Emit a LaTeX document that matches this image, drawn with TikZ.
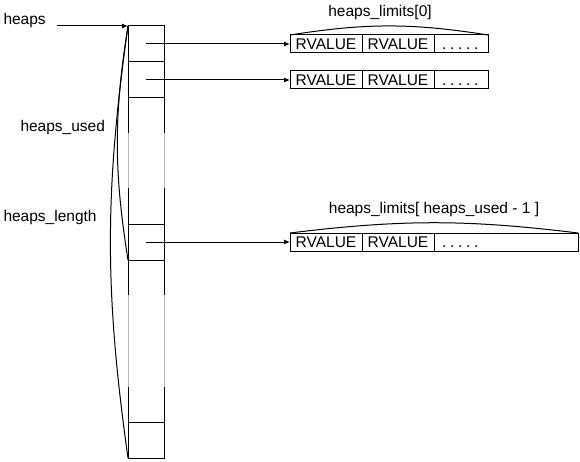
\documentclass[tikz,border=0pt]{standalone}
\usepackage{fontspec}
\setmainfont{Liberation Sans}
\usetikzlibrary{arrows.meta,positioning}

\newcommand{\fivedots}{\hspace*{8pt}.\kern3.7pt.\kern3.7pt.\kern3.7pt.\kern3.7pt.}

\begin{document}
\begin{tikzpicture}[
    x=1pt, y=-1pt,
    font=\fontsize{15.5}{18}\selectfont,
    >={Latex[length=6pt,width=5pt]},
    line width=1pt,
    slot/.style={draw, minimum width=36pt, minimum height=36pt, inner sep=0pt, outer sep=0pt},
    rvcell/.style={draw, minimum width=72pt, minimum height=18pt, inner sep=0pt, outer sep=0pt, text height=11pt, text depth=0pt},
    dotcell/.style={draw, text width=#1, minimum height=18pt, inner sep=0pt, outer sep=0pt, text height=11pt, text depth=0pt, align=left},
    omit/.style={gray!55}
]
\useasboundingbox (0,0) rectangle (580,462);

% heaps column
\node[slot] (s1) at (146,44) {};
\node[slot, below=0pt of s1] (s2) {};
\node[slot] (s3) at (146,242) {};
\node[slot] (s4) at (146,440) {};
\foreach \side in {west,east} {
  \draw (s2.south \side) -- ++(0,35);
  \draw[omit] (s2.south \side) ++(0,35) -- ++(0,55);
  \draw (s3.north \side) -- ++(0,-36);
  \draw (s3.south \side) -- ++(0,35);
  \draw[omit] (s3.south \side) ++(0,35) -- ++(0,92);
  \draw (s4.north \side) -- ++(0,-35);
}

% labels on the left
\node[anchor=base west, inner sep=0pt] (heaps) at (3,25) {heaps};
\coordinate (hs) at (57,26);
\draw[->] (hs) -- (s1.north west);
\node[anchor=base west, inner sep=0pt] (used) at (20,132) {heaps\_used};
\node[anchor=base west, inner sep=0pt] (length) at (3,222) {heaps\_length};
\draw (s1.north west) to[bend right=9] (s3.south west);
\draw (s1.north west) to[bend right=8] (s4.south west);

% RVALUE arrays
\node[rvcell, right=126pt of s1] (r1a) {RVALUE};
\node[rvcell, right=0pt of r1a] (r1b) {RVALUE};
\node[dotcell=54pt, right=0pt of r1b] (r1c) {\fivedots};

\node[rvcell, right=126pt of s2] (r2a) {RVALUE};
\node[rvcell, right=0pt of r2a] (r2b) {RVALUE};
\node[dotcell=54pt, right=0pt of r2b] (r2c) {\fivedots};

\node[rvcell, right=126pt of s3] (r3a) {RVALUE};
\node[rvcell, right=0pt of r3a] (r3b) {RVALUE};
\node[dotcell=144pt, right=0pt of r3b] (r3c) {\fivedots};

\draw[->] (s1.center) -- (r1a.west);
\draw[->] (s2.center) -- (r2a.west);
\draw[->] (s3.center) -- (r3a.west);

% limits
\draw (r1a.north west) to[bend left=9] node[above, xshift=-9pt, inner sep=6pt] (lim0) {heaps\_limits[0]} (r1c.north east);
\draw (r3a.north west) to[bend left=7] node[above, inner sep=6pt] (limn) {heaps\_limits[ heaps\_used - 1 ]} (r3c.north east);
\end{tikzpicture}
\end{document}
